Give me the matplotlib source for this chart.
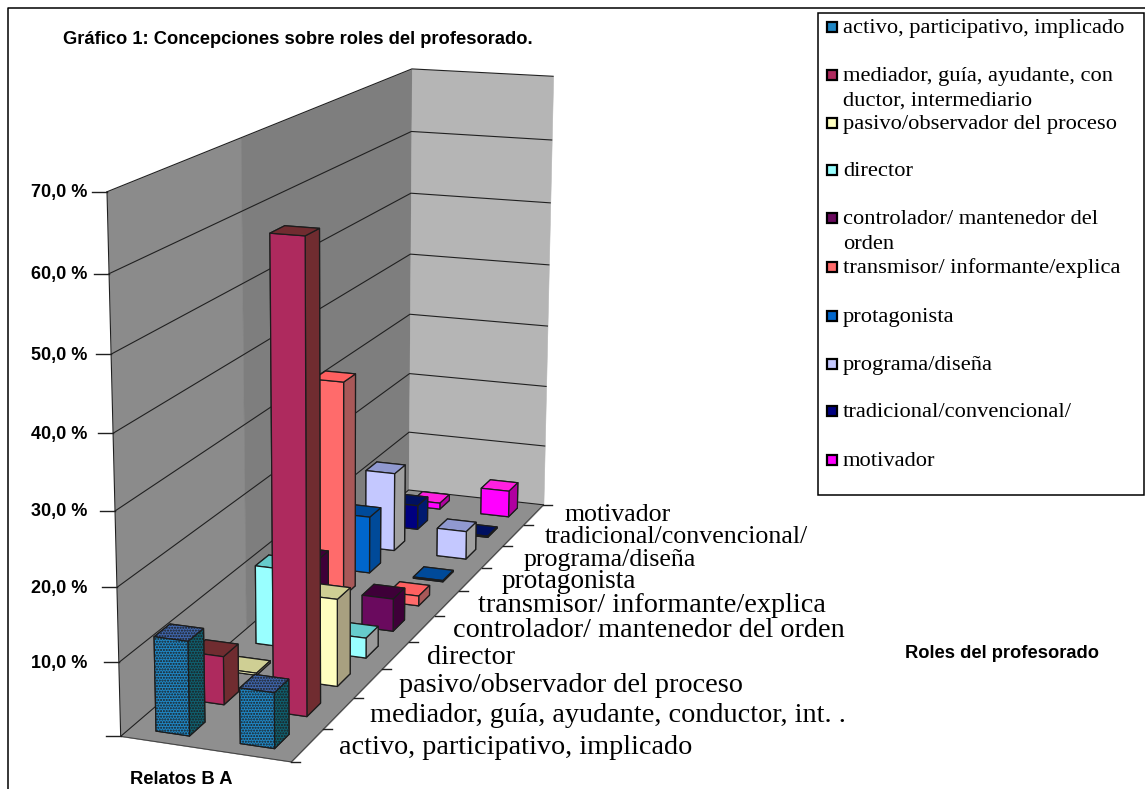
import numpy as np
import matplotlib
matplotlib.use("Agg")
import matplotlib.pyplot as plt
from matplotlib.colors import to_rgba
from matplotlib.patches import Rectangle
from mpl_toolkits.mplot3d.art3d import Poly3DCollection

# ---------- data ----------
title = "Gráfico 1: Concepciones sobre roles del profesorado."
categories = ["activo, participativo, implicado", "mediador, guía, ayudante, conductor, int. .",
              "pasivo/observador del proceso", "director", "controlador/ mantenedor del orden",
              "transmisor/ informante/explica", "protagonista", "programa/diseña",
              "tradicional/convencional/", "motivador"]
legend_labels = ["activo, participativo, implicado", "mediador, guía, ayudante, con\nductor, intermediario",
                 "pasivo/observador del proceso", "director", "controlador/ mantenedor del\norden",
                 "transmisor/ informante/explica", "protagonista", "programa/diseña",
                 "tradicional/convencional/", "motivador"]
relatos_B = [12.8, 6.7, 0.3, 11.4, 9.0, 32.5, 8.8, 12.4, 3.9, 1.0]
relatos_A = [7.5, 63.3, 12.3, 2.9, 4.8, 1.5, 0.2, 4.4, 0.2, 4.3]
value_ticks = [0, 10, 20, 30, 40, 50, 60, 70]

# ---------- style ----------
front = ["#1f86c4", "#ae2a5e", "#ffffc0", "#99ffff", "#6a0a5e", "#ff6b6b", "#0066cc", "#c4c8ff", "#000080", "#ff00ff"]
top =   ["#3f66ad", "#702c30", "#cfcf94", "#66cccc", "#3e0038", "#ff6060", "#004a99", "#9099d0", "#001060", "#ff20e0"]
side =  ["#0f6070", "#702c30", "#a8a080", "#9a9a9a", "#3e0038", "#a85858", "#004a99", "#a0a0a0", "#001a70", "#b000a0"]
legend_y = [29, 77, 125, 172, 220, 269, 318, 366, 413, 462]
label_size = [20.3, 20.3, 20.3, 20.3, 20.3, 20.3, 19.6, 18.6, 18.6, 18.6]
label_dy = [2, 2, 2, 2, 2, 2, 2, 3, 2, 0]
W, H = 1145, 789
SERIF = "Liberation Serif"
SANS = "Liberation Sans"

# ---------- camera calibrated on the chart box corners ----------
world = [(0, 0, 0), (0, 0, 70), (0, 10, 70), (0, 10, 0), (2, 10, 70), (2, 10, 0), (2, 0, 0)]
pixel = [(120, 736), (107, 192), (412, 69), (409, 490), (553, 76), (543, 505), (292, 762)]
A = []
for (x, y, z), (u, v) in zip(world, pixel):
    A.append([x, y, z, 1, 0, 0, 0, 0, -u * x, -u * y, -u * z, -u])
    A.append([0, 0, 0, 0, x, y, z, 1, -v * x, -v * y, -v * z, -v])
P = np.linalg.svd(np.array(A, float))[2][-1].reshape(3, 4)
P = P / P[2, 3]


def project(x, y, z):
    q = P @ np.array([x, y, z, 1.0])
    return q[0] / q[2], q[1] / q[2]


fig = plt.figure(figsize=(W / 100, H / 100), dpi=100, facecolor="white")
ax = fig.add_axes([0, 0, 1, 1], projection="3d", computed_zorder=False)
ax.apply_aspect = lambda position=None: None
ax.set_axis_off()


def custom_proj():
    T = np.linalg.inv(ax.transData.get_affine().get_matrix())
    flip = np.array([[1, 0, 0], [0, -1, H], [0, 0, 1.0]])
    r = T @ flip @ P
    return np.vstack([r[0], r[1], [0, 0, 0, -1.0], r[2]])


ax.get_proj = custom_proj

# walls and floor
split = 3.7
wall_light = [(0, 0, 0), (0, split, 0), (0, split, 70), (0, 0, 70)]
wall_dark = [(0, split, 0), (0, 10, 0), (0, 10, 70), (0, split, 70)]
back = [(0, 10, 0), (2, 10, 0), (2, 10, 70), (0, 10, 70)]
floor = [(0, 0, 0), (2, 0, 0), (2, 10, 0), (0, 10, 0)]
for poly, col in [(wall_light, "#8b8b8b"), (wall_dark, "#7e7e7e"), (back, "#b5b5b5"), (floor, "#8f8f8f")]:
    ax.add_collection3d(Poly3DCollection([poly], facecolors=col, edgecolors=col, linewidths=0.4, zorder=1))
for v in value_ticks:
    ax.plot([0, 0, 2], [0, 10, 10], [v, v, v], color="#202020", lw=0.8, zorder=2)
ax.plot([0, 0], [0, 0], [0, 70], color="#202020", lw=0.8, zorder=2)
ax.plot([0, 2, 2], [0, 0, 10], [0, 0, 0], color="#404040", lw=0.7, zorder=2)

# bars, far to near
bw, bd = 0.40, 0.44
order = 3
for i in range(len(categories) - 1, -1, -1):
    for s, vals in enumerate([relatos_B, relatos_A]):
        faces = [top[i], top[i], front[i], front[i], side[i], side[i]]
        col = ax.bar3d(s + 0.5 - bw / 2, i + 0.5 - bd / 2, 0, bw, bd, vals[i], color=faces, shade=False,
                       edgecolor="#1c1c1c", linewidth=0.9, zorder=order,
                       hatch="......" if i == 0 else None)
        if i == 0:
            col._hatch_color = to_rgba("#8a78cc")
        order += 1
ax.set_xlim(0, 2); ax.set_ylim(0, 10); ax.set_zlim(0, 70)

# 2D overlay in pixel units for ticks and text
ov = fig.add_axes([0, 0, 1, 1], facecolor="none")
ov.set_xlim(0, W); ov.set_ylim(H, 0); ov.axis("off")

ov.plot([8, 8, W], [H, 8, 8], color="black", lw=1.1)
ov.text(63, 39, title, fontsize=13.2, fontweight="bold", family=SANS, va="center", ha="left")
ov.text(905, 654, "Roles del profesorado", fontsize=13.2, fontweight="bold", family=SANS, va="center", ha="left")
ov.text(130, 780, "Relatos B A", fontsize=13.2, fontweight="bold", family=SANS, va="center", ha="left")

for v in value_ticks:
    px, py = project(0, 0, v)
    ov.plot([px - 15, px], [py, py], color="#202020", lw=1)
    if v:
        ov.text(87, py + 1, f"{v},0 %", fontsize=13, fontweight="bold", family=SANS, ha="right", va="center")

for i in range(len(categories) + 1):
    px, py = project(2, i, 0)
    ov.plot([px, px + 9], [py, py], color="#202020", lw=1)
for i, lab in enumerate(categories):
    px, py = project(2, i + 0.5, 0)
    ov.text(px + 31, py + label_dy[i], lab, fontsize=label_size[i], family=SERIF, ha="left", va="center")

# legend
ov.add_patch(Rectangle((818, 13), 326, 482, facecolor="white", edgecolor="black", lw=1.1))
for i, (lab, y) in enumerate(zip(legend_labels, legend_y)):
    ov.add_patch(Rectangle((827, y - 7), 10, 10, facecolor=front[i], edgecolor="black", lw=1.6))
    ov.text(843, y - 1, lab.split("\n")[0], fontsize=16.2, family=SERIF, ha="left", va="center")
    if "\n" in lab:
        ov.text(843, y + 24, lab.split("\n")[1], fontsize=16.2, family=SERIF, ha="left", va="center")

fig.savefig("out.png", dpi=100)
